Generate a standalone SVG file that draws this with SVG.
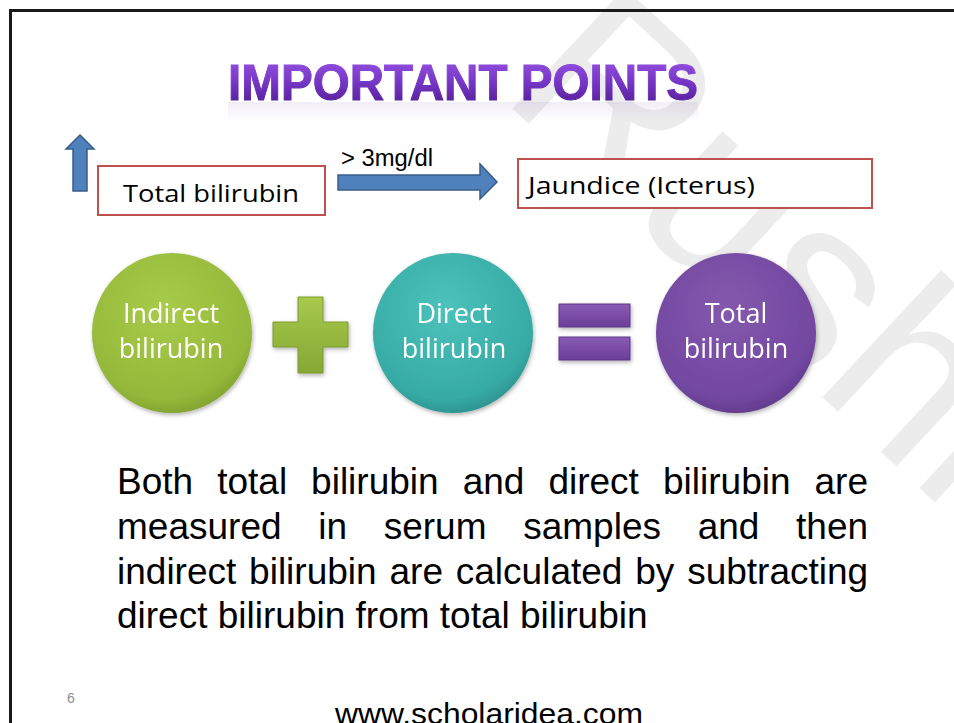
<svg xmlns="http://www.w3.org/2000/svg" width="954" height="723" viewBox="0 0 954 723">
  <style>
    .box{fill:#ffffff;stroke:#c0504d;stroke-width:2}
    .boxtxt{font-family:"Open Sans","Noto Sans","Liberation Sans",sans-serif;font-size:24px;fill:#000}
    .circtxt{font-family:"Open Sans","Noto Sans","Liberation Sans",sans-serif;font-size:27px;fill:#ffffff;text-anchor:middle}
    .blk{fill:#4f81bd;stroke:#385d8a;stroke-width:1.5;stroke-linejoin:miter}
    .body{font-family:"Liberation Sans",Arial,sans-serif;font-size:37px;fill:#000}
    .lbl{font-family:"Liberation Sans",Arial,sans-serif;font-size:23px;fill:#000}
    .title{font-family:"Liberation Sans",Arial,sans-serif;font-weight:bold;font-size:50px;text-anchor:middle}
  </style>
  <defs>
    <linearGradient id="gTitle" x1="0" y1="0" x2="0" y2="1">
      <stop offset="0" stop-color="#9a55e6"/>
      <stop offset="0.5" stop-color="#7535c4"/>
      <stop offset="1" stop-color="#4a1a8c"/>
    </linearGradient>
    <linearGradient id="gRefl" x1="0" y1="0" x2="0" y2="1">
      <stop offset="0" stop-color="#8a6ab8" stop-opacity="0.12"/>
      <stop offset="1" stop-color="#8a6ab8" stop-opacity="0"/>
    </linearGradient>
    <radialGradient id="gGreen" cx="0.45" cy="0.35" r="0.7">
      <stop offset="0" stop-color="#a9cb4a"/>
      <stop offset="0.8" stop-color="#94b83a"/>
      <stop offset="1" stop-color="#7c9c2c"/>
    </radialGradient>
    <radialGradient id="gTeal" cx="0.45" cy="0.35" r="0.7">
      <stop offset="0" stop-color="#4cc2bb"/>
      <stop offset="0.8" stop-color="#37aaa5"/>
      <stop offset="1" stop-color="#2a8c88"/>
    </radialGradient>
    <radialGradient id="gPurple" cx="0.45" cy="0.35" r="0.7">
      <stop offset="0" stop-color="#8459ad"/>
      <stop offset="0.8" stop-color="#7247a0"/>
      <stop offset="1" stop-color="#5d3787"/>
    </radialGradient>
    <linearGradient id="gPlus" x1="0" y1="0" x2="0" y2="1">
      <stop offset="0" stop-color="#a8c94c"/>
      <stop offset="1" stop-color="#86a834"/>
    </linearGradient>
    <linearGradient id="gEq" x1="0" y1="0" x2="0" y2="1">
      <stop offset="0" stop-color="#8a5cb6"/>
      <stop offset="1" stop-color="#6a3e98"/>
    </linearGradient>
    <filter id="shadow" x="-20%" y="-20%" width="140%" height="140%">
      <feDropShadow dx="1" dy="2" stdDeviation="2" flood-color="#000" flood-opacity="0.3"/>
    </filter>
  </defs>

  <rect x="0" y="0" width="954" height="723" fill="#ffffff"/>

  <!-- watermark -->
  <g id="watermark">
    <text x="0" y="0" transform="translate(498,95) rotate(43)" font-family="Liberation Sans, Arial, sans-serif" font-size="240" fill="#ececec">Rushi</text>
  </g>

  <!-- slide border -->
  <g id="border" stroke="#1a1a1a" stroke-width="3">
    <line x1="9" y1="10.5" x2="954" y2="10.5"/>
    <line x1="10.5" y1="10" x2="10.5" y2="723"/>
  </g>

  <!-- title -->
  <g id="title">
    <rect x="228" y="102" width="470" height="20" fill="url(#gRefl)"/>
    <text class="title" x="463" y="100" fill="url(#gTitle)" stroke="url(#gTitle)" stroke-width="1" textLength="470" lengthAdjust="spacingAndGlyphs">IMPORTANT POINTS</text>
  </g>

  <!-- up arrow -->
  <g id="up-arrow">
    <polygon class="blk" points="80,135 94,149 87,149 87,191 73,191 73,149 66,149"/>
  </g>

  <!-- Total bilirubin box -->
  <g id="total-box">
    <rect class="box" x="98" y="166" width="227" height="49"/>
    <text class="boxtxt" x="123" y="202" textLength="176" lengthAdjust="spacingAndGlyphs">Total bilirubin</text>
  </g>

  <!-- Jaundice box -->
  <g id="jaundice-box">
    <rect class="box" x="518" y="159" width="354" height="49"/>
    <text class="boxtxt" x="528" y="194" textLength="227" lengthAdjust="spacingAndGlyphs">Jaundice (Icterus)</text>
  </g>

  <!-- connectors -->
  <g id="connectors">
    <polygon class="blk" points="338,175 480,175 480,164 497,182 480,199 480,190 338,190"/>
    <text class="lbl" x="341" y="166" textLength="92" lengthAdjust="spacingAndGlyphs">&gt; 3mg/dl</text>
  </g>

  <!-- circles -->
  <g id="indirect" filter="url(#shadow)">
    <circle cx="172" cy="333" r="80" fill="url(#gGreen)"/>
    <text class="circtxt" x="171" y="323">Indirect</text>
    <text class="circtxt" x="171" y="358">bilirubin</text>
  </g>

  <g id="plus" filter="url(#shadow)">
    <path d="M298,297 H323 V322 H348 V347 H323 V373 H298 V347 H273 V322 H298 Z" fill="url(#gPlus)" stroke="#7a9a2e" stroke-width="1"/>
  </g>

  <g id="direct" filter="url(#shadow)">
    <circle cx="453" cy="333" r="80" fill="url(#gTeal)"/>
    <text class="circtxt" x="454" y="323">Direct</text>
    <text class="circtxt" x="454" y="358">bilirubin</text>
  </g>

  <g id="equals" filter="url(#shadow)">
    <rect x="559" y="304" width="71" height="23" fill="url(#gEq)" stroke="#5d3787" stroke-width="1"/>
    <rect x="559" y="337" width="71" height="23" fill="url(#gEq)" stroke="#5d3787" stroke-width="1"/>
  </g>

  <g id="total" filter="url(#shadow)">
    <circle cx="736" cy="333" r="80" fill="url(#gPurple)"/>
    <text class="circtxt" x="736" y="323">Total</text>
    <text class="circtxt" x="736" y="358">bilirubin</text>
  </g>

  <!-- body text -->
  <g id="body">
    <text class="body" y="494"><tspan x="117">Both</tspan><tspan x="217.2">total</tspan><tspan x="311.1">bilirubin</tspan><tspan x="462.7">and</tspan><tspan x="548.4">direct</tspan><tspan x="663">bilirubin</tspan><tspan x="814.5">are</tspan></text>
    <text class="body" y="539"><tspan x="117">measured</tspan><tspan x="318.2">in</tspan><tspan x="383.7">serum</tspan><tspan x="523.2">samples</tspan><tspan x="697.7">and</tspan><tspan x="796.1">then</tspan></text>
    <text class="body" y="584"><tspan x="117">indirect</tspan><tspan x="249.1">bilirubin</tspan><tspan x="389.5">are</tspan><tspan x="455.8">calculated</tspan><tspan x="635.3">by</tspan><tspan x="687.2">subtracting</tspan></text>
    <text class="body" x="117" y="628">direct bilirubin from total bilirubin</text>
  </g>

  <!-- footer -->
  <g id="footer">
    <text x="67" y="703" font-family="Liberation Sans, Arial, sans-serif" font-size="14" fill="#8c8c8c">6</text>
    <text x="489" y="724" font-family="Liberation Sans, Arial, sans-serif" font-size="30" fill="#000" text-anchor="middle" textLength="308" lengthAdjust="spacingAndGlyphs">www.scholaridea.com</text>
  </g>
</svg>
